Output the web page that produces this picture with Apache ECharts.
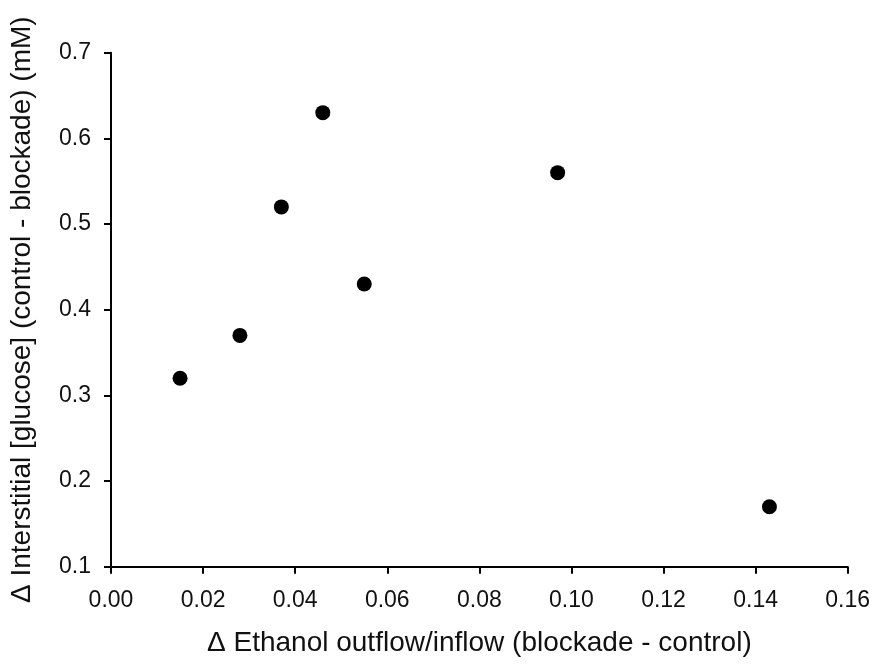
<!DOCTYPE html>
<html>
<head>
<meta charset="utf-8">
<script src="https://cdn.jsdelivr.net/npm/echarts@6/dist/echarts.min.js"></script>
<style>
html,body{margin:0;padding:0;background:#fff;}
#chart{width:875px;height:665px;}
</style>
</head>
<body>
<div id="chart"></div>
<script>
// Data
var ethanolDelta = [0.015, 0.028, 0.037, 0.046, 0.055, 0.097, 0.143];
var glucoseDelta = [0.32, 0.37, 0.52, 0.63, 0.43, 0.56, 0.17];
var xTitle = 'Δ Ethanol outflow/inflow (blockade - control)';
var yTitle = 'Δ Interstitial [glucose] (control - blockade) (mM)';

var points = ethanolDelta.map(function (x, i) { return [x, glucoseDelta[i]]; });

var FONT = '"Liberation Sans", Arial, sans-serif';
var chart = echarts.init(document.getElementById('chart'), null, {renderer: 'canvas'});
chart.setOption({
  backgroundColor: '#ffffff',
  animation: false,
  grid: {left: 110.5, right: 27.3, top: 52.7, bottom: 98.3, containLabel: false},
  xAxis: {
    type: 'value',
    min: 0, max: 0.16, interval: 0.02,
    name: xTitle,
    nameLocation: 'middle',
    nameGap: 63,
    nameTextStyle: {fontFamily: FONT, fontSize: 28, color: '#111'},
    axisLine: {show: true, onZero: false, lineStyle: {color: '#000', width: 2}},
    axisTick: {show: true, inside: false, length: 7, lineStyle: {color: '#000', width: 2}},
    axisLabel: {margin: 22, fontFamily: FONT, fontSize: 23, color: '#111',
      formatter: function (v) { return v.toFixed(2); }},
    splitLine: {show: false}
  },
  yAxis: {
    type: 'value',
    min: 0.1, max: 0.7, interval: 0.1,
    name: yTitle,
    nameLocation: 'middle',
    nameGap: 75,
    nameTextStyle: {fontFamily: FONT, fontSize: 28, color: '#111'},
    axisLine: {show: true, onZero: false, lineStyle: {color: '#000', width: 2}},
    axisTick: {show: true, inside: false, length: 7, lineStyle: {color: '#000', width: 2}},
    axisLabel: {margin: 20, fontFamily: FONT, fontSize: 23, color: '#111',
      formatter: function (v) { return v.toFixed(1); }},
    splitLine: {show: false}
  },
  series: [{
    type: 'scatter',
    data: points,
    symbol: 'circle',
    symbolSize: 15,
    itemStyle: {color: '#000', opacity: 1}
  }]
});
</script>
</body>
</html>
